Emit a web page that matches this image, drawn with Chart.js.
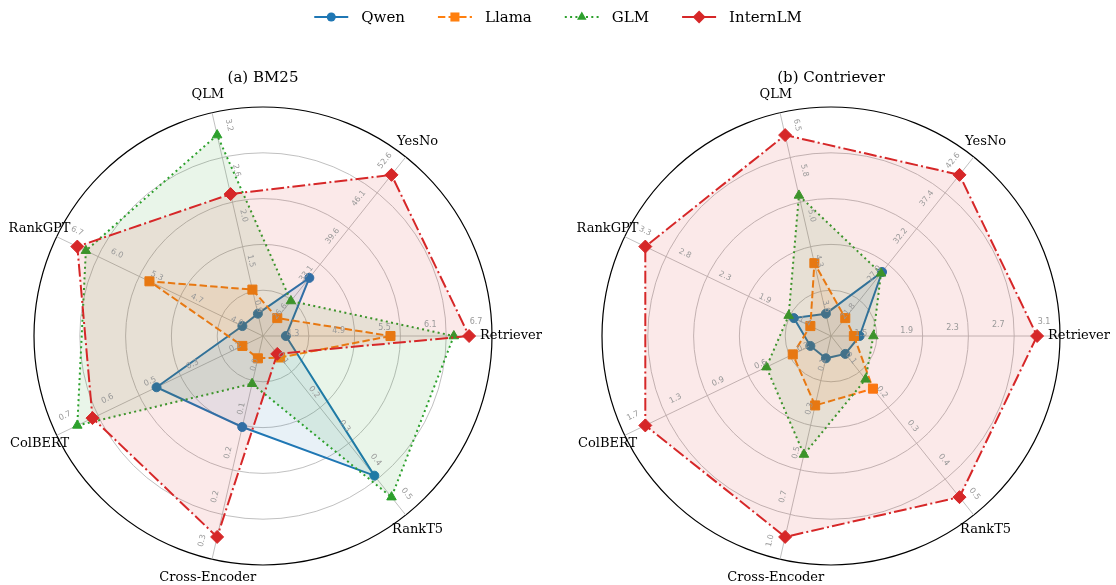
<!DOCTYPE html>
<html>
<head>
<meta charset="utf-8">
<script src="https://cdn.jsdelivr.net/npm/chart.js@4.4.1/dist/chart.umd.min.js"></script>
<style>
  body { margin: 0; background: #fff; }
  #wrap { position: relative; width: 1116px; height: 585px; }
  #wrap canvas { position: absolute; left: 0; top: 0; }
</style>
</head>
<body>
<div id="wrap">
  <canvas id="bm25" width="1116" height="585"></canvas>
  <canvas id="contriever" width="1116" height="585"></canvas>
</div>
<script>
// axis order as Chart.js walks it (clockwise, starting at the right)
const axes = ["Retriever", "RankT5", "Cross-Encoder", "ColBERT", "RankGPT", "QLM", "YesNo"];
const models = ["Qwen", "Llama", "GLM", "InternLM"];

// (a) BM25
const bm25Qwen = [4.3, 0.44, 0.14, 0.46, 4.0, 0.9, 33.9];
const bm25Llama = [5.67, 0.11, 0.04, 0.2, 5.52, 1.21, 26.6];
const bm25Glm = [6.5, 0.5, 0.077, 0.7, 6.56, 3.2, 29.7];
const bm25Intern = [6.7, 0.1, 0.3, 0.654, 6.7, 2.44, 52.6];
const bm25Min = [4.3, 0.1, 0.04, 0.2, 4.0, 0.9, 26.6];
const bm25Max = [6.7, 0.5, 0.3, 0.7, 6.7, 3.2, 52.6];
const bm25Ticks = [
  ["4.3", "4.9", "5.5", "6.1", "6.7"],
  ["0.1", "0.2", "0.3", "0.4", "0.5"],
  ["0.0", "0.1", "0.2", "0.2", "0.3"],
  ["0.2", "0.3", "0.5", "0.6", "0.7"],
  ["4.0", "4.7", "5.3", "6.0", "6.7"],
  ["0.9", "1.5", "2.0", "2.6", "3.2"],
  ["26.6", "33.1", "39.6", "46.1", "52.6"],
];

// (b) Contriever
const contQwen = [1.55, 0.1, 0.05, 0.2, 1.59, 3.6, 28.5];
const contLlama = [1.5, 0.197, 0.29, 0.36, 1.4, 4.42, 21.8];
const contGlm = [1.67, 0.171, 0.54, 0.6, 1.65, 5.52, 28.3];
const contIntern = [3.1, 0.5, 0.96, 1.7, 3.3, 6.5, 42.6];
const contMin = [1.5, 0.1, 0.05, 0.2, 1.4, 3.6, 21.8];
const contMax = [3.1, 0.5, 0.96, 1.7, 3.3, 6.5, 42.6];
const contTicks = [
  ["1.5", "1.9", "2.3", "2.7", "3.1"],
  ["0.1", "0.2", "0.3", "0.4", "0.5"],
  ["0.1", "0.3", "0.5", "0.7", "1.0"],
  ["0.2", "0.6", "0.9", "1.3", "1.7"],
  ["1.4", "1.9", "2.3", "2.8", "3.3"],
  ["3.6", "4.3", "5.0", "5.8", "6.5"],
  ["21.8", "27.0", "32.2", "37.4", "42.6"],
];

const styles = [
  { color: "31,119,180", dash: [], point: "circle", radius: 4.5 },
  { color: "255,127,14", dash: [7.4, 3.2], point: "rect", radius: 6.4 },
  { color: "44,160,44", dash: [2, 3.3], point: "triangle", radius: 5.5 },
  { color: "214,39,40", dash: [12.8, 3.2, 2, 3.2], point: "rectRot", radius: 6.5 },
];

// every axis has its own range: min sits at 0.1, max at 0.9 of the radius
function normalize(values, mins, maxs) {
  return values.map((v, i) => 0.1 + 0.8 * (v - mins[i]) / (maxs[i] - mins[i]));
}

function buildDatasets(series, mins, maxs) {
  return series.map((values, k) => {
    const s = styles[k];
    return {
      label: models[k],
      data: normalize(values, mins, maxs),
      order: series.length - 1 - k,
      borderColor: `rgb(${s.color})`,
      backgroundColor: `rgba(${s.color},0.1)`,
      borderWidth: 2,
      borderDash: s.dash,
      fill: true,
      pointStyle: s.point,
      pointRadius: s.radius,
      pointBackgroundColor: `rgb(${s.color})`,
      pointBorderColor: `rgb(${s.color})`,
      pointBorderWidth: 1,
    };
  });
}

function drawMarker(ctx, style, x, y, rad) {
  ctx.beginPath();
  if (style === "circle") {
    ctx.arc(x, y, rad, 0, Math.PI * 2);
  } else if (style === "rect") {
    const s = rad * Math.SQRT1_2;
    ctx.rect(x - s, y - s, 2 * s, 2 * s);
  } else if (style === "triangle") {
    for (let j = 0; j < 3; j++) {
      const a = j * 2 * Math.PI / 3;
      const px = x + Math.sin(a) * rad;
      const py = y - Math.cos(a) * rad;
      j === 0 ? ctx.moveTo(px, py) : ctx.lineTo(px, py);
    }
    ctx.closePath();
  } else {
    ctx.moveTo(x, y - rad);
    ctx.lineTo(x + rad, y);
    ctx.lineTo(x, y + rad);
    ctx.lineTo(x - rad, y);
    ctx.closePath();
  }
  ctx.fill();
}

function labelsPlugin(title, ticks, withLegend) {
  return {
    id: "labels",
    afterDraw(chart) {
      const ctx = chart.ctx;
      const r = chart.scales.r;
      const R = r.drawingArea;
      ctx.save();
      ctx.textAlign = "center";
      ctx.textBaseline = "middle";
      ctx.fillStyle = "#000";
      ctx.font = '15px "DejaVu Serif"';
      ctx.fillText(title, r.xCenter, r.yCenter - R - 29);

      ctx.font = '13px "DejaVu Serif"';
      chart.data.labels.forEach((name, i) => {
        const p = r.getPointPosition(i, R * 1.083);
        ctx.fillText(name, p.x, p.y);
      });

      ctx.font = '8px "DejaVu Sans"';
      ctx.fillStyle = "#999";
      ticks.forEach((list, i) => {
        list.forEach((txt, k) => {
          const d = (0.1 + 0.2 * k) * R + 7;
          const p = r.getPointPosition(i, d);
          let rot = p.angle;
          while (rot > Math.PI / 2 + 1e-6) rot -= Math.PI;
          while (rot <= -Math.PI / 2 + 1e-6) rot += Math.PI;
          ctx.save();
          ctx.translate(p.x, p.y);
          ctx.rotate(rot);
          ctx.fillText(txt, 0, -0.065 * d);
          ctx.restore();
        });
      });

      if (withLegend) {
        const sets = chart.data.datasets;
        ctx.font = '15px "DejaVu Serif"';
        const lineLen = 34, gap = 13, between = 33, y = 17;
        let total = between * (sets.length - 1);
        sets.forEach((ds) => { total += lineLen + gap + ctx.measureText(ds.label).width; });
        let x = chart.width / 2 - total / 2;
        sets.forEach((ds) => {
          ctx.strokeStyle = ds.borderColor;
          ctx.fillStyle = ds.borderColor;
          ctx.lineWidth = 2;
          ctx.setLineDash(ds.borderDash);
          ctx.beginPath();
          ctx.moveTo(x, y);
          ctx.lineTo(x + lineLen, y);
          ctx.stroke();
          ctx.setLineDash([]);
          drawMarker(ctx, ds.pointStyle, x + lineLen / 2, y, ds.pointRadius);
          ctx.fillStyle = "#000";
          ctx.textAlign = "left";
          ctx.fillText(ds.label, x + lineLen + gap, y + 1);
          x += lineLen + gap + ctx.measureText(ds.label).width + between;
        });
      }
      ctx.restore();
    },
  };
}

function makeRadar(canvasId, series, mins, maxs, ticks, title, padding, withLegend) {
  return new Chart(document.getElementById(canvasId), {
    type: "radar",
    data: { labels: axes, datasets: buildDatasets(series, mins, maxs) },
    options: {
      responsive: false,
      animation: false,
      layout: { padding },
      plugins: { legend: { display: false }, tooltip: { enabled: false } },
      elements: { line: { tension: 0 } },
      scales: {
        r: {
          min: 0,
          max: 1,
          startAngle: 90,
          ticks: { display: false, stepSize: 0.2 },
          pointLabels: { display: false },
          grid: {
            circular: true,
            color: (c) => (c.index === 5 ? "#000" : "#b9b9b9"),
            lineWidth: (c) => (c.index === 5 ? 1.2 : 0.9),
          },
          angleLines: { color: "#b9b9b9", lineWidth: 0.9 },
        },
      },
    },
    plugins: [labelsPlugin(title, ticks, withLegend)],
  });
}

makeRadar("bm25", [bm25Qwen, bm25Llama, bm25Glm, bm25Intern], bm25Min, bm25Max, bm25Ticks,
  "(a) BM25", { left: 34, right: 624, top: 107, bottom: 20 }, true);
makeRadar("contriever", [contQwen, contLlama, contGlm, contIntern], contMin, contMax, contTicks,
  "(b) Contriever", { left: 602, right: 56, top: 107, bottom: 20 }, false);
</script>
</body>
</html>
